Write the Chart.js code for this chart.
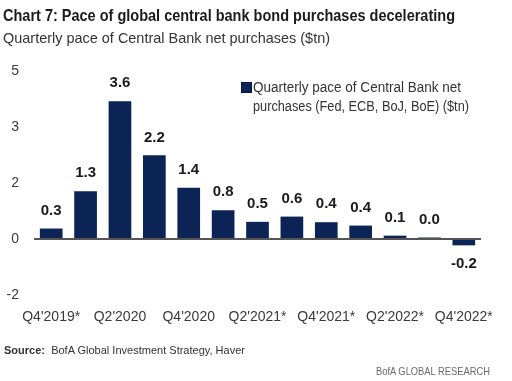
<!DOCTYPE html>
<html>
<head>
<meta charset="utf-8">
<script src="https://cdn.jsdelivr.net/npm/chart.js@4/dist/chart.umd.min.js"></script>
<style>
  html, body { margin: 0; padding: 0; background: #fff; }
  body { width: 512px; height: 381px; position: relative; overflow: hidden; font-family: "Liberation Sans", Arial, sans-serif; }
  #wrap { position: absolute; left: 0; top: 0; width: 512px; height: 381px; }
  .txt { position: absolute; white-space: nowrap; transform-origin: 0 50%; }
  #title { left: 3px; top: 6px; font-size: 17px; font-weight: bold; color: #1b1b1b; }
  #subtitle { left: 3px; top: 29px; font-size: 15px; color: #333; }
  #legbox { position: absolute; left: 241px; top: 82px; width: 9px; height: 9px; background: #0c2356; border: 1px solid #061840; }
  .leg { left: 253px; font-size: 14px; color: #333; }
  #source { left: 4px; top: 344px; font-size: 11.5px; color: #333; }
  #brand { left: 376px; top: 365px; font-size: 11.5px; color: #6a6a6a; }
</style>
</head>
<body>
<div id="wrap"><canvas id="myChart" width="512" height="381"></canvas></div>
<div class="txt" id="title" data-w="452">Chart 7: Pace of global central bank bond purchases decelerating</div>
<div class="txt" id="subtitle" data-w="327">Quarterly pace of Central Bank net purchases ($tn)</div>
<div id="legbox"></div>
<div class="txt leg" id="leg1" style="top:79px" data-w="208">Quarterly pace of Central Bank net</div>
<div class="txt leg" id="leg2" style="top:98px" data-w="216">purchases (Fed, ECB, BoJ, BoE) ($tn)</div>
<div class="txt" id="source" data-w="241"><b>Source:</b>&nbsp; BofA Global Investment Strategy, Haver</div>
<div class="txt" id="brand" data-w="114">BofA GLOBAL RESEARCH</div>
<script>
const quarters = ["Q4'2019*", "Q1'2020", "Q2'2020", "Q3'2020", "Q4'2020", "Q1'2021", "Q2'2021*",
  "Q3'2021", "Q4'2021*", "Q1'2022", "Q2'2022*", "Q3'2022", "Q4'2022*"];
// bar heights ($tn)
const purchases = [0.28, 1.28, 3.69, 2.24, 1.37, 0.77, 0.46, 0.6, 0.45, 0.36, 0.09, 0.04, -0.17];
// printed value labels
const valueLabels = ['0.3', '1.3', '3.6', '2.2', '1.4', '0.8', '0.5', '0.6', '0.4', '0.4', '0.1', '0.0', '-0.2'];
const yTickValues = [-1.5, 0, 1.5, 3, 4.5];
const yTickLabels = ['-2', '0', '2', '3', '5'];

// squeeze the html text lines to the widths they have in the original
document.querySelectorAll('.txt').forEach(el => {
  const target = parseFloat(el.dataset.w);
  const w = el.getBoundingClientRect().width;
  if (w > 0) el.style.transform = 'scaleX(' + (target / w) + ')';
});

const navy = '#0c2356';

// value labels above / below the bars
const valueLabelPlugin = {
  id: 'valueLabels',
  afterDatasetsDraw(chart) {
    const ctx = chart.ctx;
    const meta = chart.getDatasetMeta(0);
    ctx.save();
    ctx.font = 'bold 15px "Liberation Sans", Arial, sans-serif';
    ctx.fillStyle = '#1a1a1a';
    ctx.textAlign = 'center';
    ctx.textBaseline = 'middle';
    meta.data.forEach((bar, i) => {
      const v = purchases[i];
      const y = v >= 0 ? bar.y - 18 : bar.y + 19;
      ctx.fillText(valueLabels[i], bar.x, y);
    });
    ctx.restore();
  }
};

const ctx = document.getElementById('myChart').getContext('2d');
new Chart(ctx, {
  type: 'bar',
  data: {
    labels: quarters,
    datasets: [{
      label: 'Quarterly pace of Central Bank net purchases (Fed, ECB, BoJ, BoE) ($tn)',
      data: purchases,
      backgroundColor: navy,
      borderColor: '#071a45',
      borderWidth: 0,
      categoryPercentage: 1,
      barPercentage: 0.66
    }]
  },
  options: {
    responsive: false,
    animation: false,
    events: [],
    layout: { padding: { top: 71, right: 31, bottom: 56, left: 0 } },
    plugins: {
      legend: { display: false },
      title: { display: false },
      tooltip: { enabled: false }
    },
    scales: {
      x: {
        grid: { display: false, drawTicks: false },
        border: { display: false },
        afterFit(scale) { scale.height = 30; },
        ticks: {
          autoSkip: false,
          maxRotation: 0,
          padding: 14,
          color: '#3a3a3a',
          font: { family: '"Liberation Sans", Arial, sans-serif', size: 14 },
          callback: (v, i) => (i % 2 === 0 ? quarters[i] : '')
        }
      },
      y: {
        min: -1.5,
        max: 4.5,
        afterBuildTicks(scale) { scale.ticks = yTickValues.map(v => ({ value: v })); },
        afterFit(scale) { scale.width = 34; },
        border: { display: false },
        grid: {
          drawTicks: false,
          color: c => (c.tick && c.tick.value === 0 ? '#555555' : 'rgba(0,0,0,0)'),
          lineWidth: 2
        },
        ticks: {
          padding: 15,
          color: '#3a3a3a',
          font: { family: '"Liberation Sans", Arial, sans-serif', size: 14 },
          callback: v => yTickLabels[yTickValues.indexOf(v)]
        }
      }
    }
  },
  plugins: [valueLabelPlugin]
});
</script>
</body>
</html>
